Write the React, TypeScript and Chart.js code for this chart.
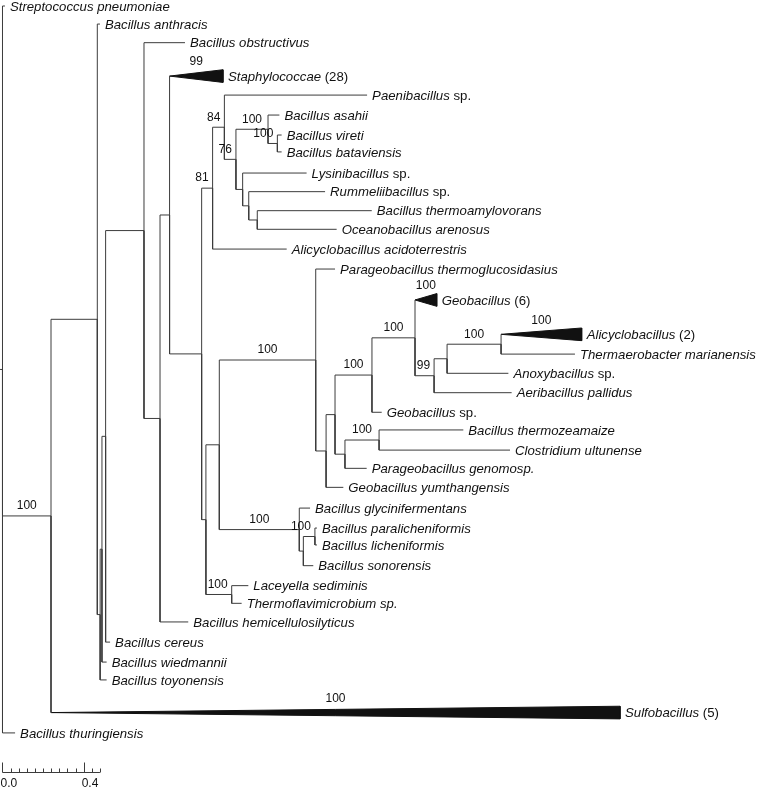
import React, { useEffect, useRef } from "react";
import { Chart, registerables } from "chart.js";

Chart.register(...registerables);

// ---- Leaves (taxa), in drawing order ----
const taxa = [
  "Streptococcus pneumoniae",
  "Bacillus anthracis",
  "Bacillus obstructivus",
  "Staphylococcae",
  "Paenibacillus",
  "Bacillus asahii",
  "Bacillus vireti",
  "Bacillus bataviensis",
  "Lysinibacillus",
  "Rummeliibacillus",
  "Bacillus thermoamylovorans",
  "Oceanobacillus arenosus",
  "Alicyclobacillus acidoterrestris",
  "Parageobacillus thermoglucosidasius",
  "Geobacillus",
  "Alicyclobacillus",
  "Thermaerobacter marianensis",
  "Anoxybacillus",
  "Aeribacillus pallidus",
  "Geobacillus",
  "Bacillus thermozeamaize",
  "Clostridium ultunense",
  "Parageobacillus genomosp.",
  "Geobacillus yumthangensis",
  "Bacillus glycinifermentans",
  "Bacillus paralicheniformis",
  "Bacillus licheniformis",
  "Bacillus sonorensis",
  "Laceyella sediminis",
  "Thermoflavimicrobium sp.",
  "Bacillus hemicellulosilyticus",
  "Bacillus cereus",
  "Bacillus wiedmannii",
  "Bacillus toyonensis",
  "Sulfobacillus",
  "Bacillus thuringiensis",
];

// roman (non-italic) suffix after the italic name
const taxonSuffix = [
  "", "", "", "", " sp.", "", "", "", " sp.", " sp.", "", "", "", "", "", "", "", " sp.", "", " sp.",
  "", "", "", "", "", "", "", "", "", "", "", "", "", "", "", "",
];

// leaf order position (rows)
const taxonRow = [
  0, 0.94, 1.91, 3.65, 4.64, 5.68, 6.72, 7.6, 8.7, 9.67, 10.66, 11.63, 12.66, 13.7, 15.31, 17.1,
  18.13, 19.13, 20.14, 21.16, 22.08, 23.13, 24.08, 25.07, 26.15, 27.19, 28.07, 29.15, 30.19, 31.11,
  32.08, 33.13, 34.17, 35.1, 36.8, 37.86,
];

// cumulative distance from root at the tip (base of triangle for collapsed clades)
const taxonDepth = [
  0.012, 0.48, 0.899, 1.086, 1.796, 1.364, 1.375, 1.375, 1.498, 1.589, 1.819, 1.646, 1.4, 1.638,
  2.139, 2.853, 2.82, 2.492, 2.508, 1.868, 2.27, 2.5, 1.794, 1.679, 1.515, 1.549, 1.549, 1.531,
  1.211, 1.178, 0.915, 0.53, 0.513, 0.513, 3.042, 0.062,
];

// internal node each leaf hangs from
const taxonParent = [
  0, 2, 6, 8, 11, 13, 14, 14, 15, 16, 17, 17, 10, 20, 24, 27, 27, 26, 25, 23, 29, 29, 28, 21, 30,
  32, 32, 31, 33, 33, 7, 5, 4, 3, 1, 0,
];

// collapsed clades: number of sequences (0 = single leaf)
const cladeSize = [
  0, 0, 0, 28, 0, 0, 0, 0, 0, 0, 0, 0, 0, 0, 6, 2, 0, 0, 0, 0, 0, 0, 0, 0, 0, 0, 0, 0, 0, 0, 0, 0,
  0, 0, 5, 0,
];
const cladeSupport = [
  null, null, null, 99, null, null, null, null, null, null, null, null, null, null, 100, 100, null,
  null, null, null, null, null, null, null, null, null, null, null, null, null, null, null, null,
  null, 100, null,
];

// ---- Internal nodes ----
const nodeDepth = [
  0, 0.239, 0.467, 0.481, 0.49, 0.508, 0.697, 0.776, 0.823, 0.981, 1.035, 1.093, 1.15, 1.308,
  1.354, 1.183, 1.213, 1.255, 1.002, 1.068, 1.543, 1.594, 1.638, 1.82, 2.032, 2.126, 2.19, 2.456,
  1.687, 1.855, 1.462, 1.482, 1.539, 1.129,
];
const nodeParent = [
  -1, 0, 1, 2, 3, 4, 5, 6, 7, 8, 9, 10, 11, 12, 13, 12, 15, 16, 9, 18, 19, 20, 21, 22, 23, 24, 25,
  26, 22, 28, 19, 30, 31, 18,
];
const nodeSupport = [
  null, 100, null, null, null, null, null, null, null, null, 81, 84, 76, 100, 100, null, null, null,
  null, null, 100, null, null, 100, 100, 99, null, 100, null, 100, 100, null, 100, 100,
];
const rootBranch = 0.012;

// ---- Scale bar ----
const scaleTicks = [0, 0.04, 0.08, 0.12, 0.16, 0.2, 0.24, 0.28, 0.32, 0.36, 0.4, 0.44, 0.48];
const scaleLabelValues = [0, 0.4];
const scaleLabels = ["0.0", "0.4"];

// ---- Layout constants ----
const LINE_COLOR = "#3c3c3c";
const TEXT_COLOR = "#111111";
const NAME_FONT_SIZE = 13.2;
const SUPPORT_FONT_SIZE = 12;
const FONT_FAMILY = '"Liberation Sans", Arial, Helvetica, sans-serif';
const TRI_HALF = 0.33;

function computeNodeRows(): number[] {
  const rows: number[] = new Array(nodeDepth.length).fill(NaN);
  const childRows = (n: number): number[] => {
    const r: number[] = [];
    taxonParent.forEach((p, i) => {
      if (p === n) r.push(taxonRow[i]);
    });
    nodeParent.forEach((p, i) => {
      if (p === n) r.push(rowOf(i));
    });
    return r;
  };
  const rowOf = (n: number): number => {
    if (!isNaN(rows[n])) return rows[n];
    const r = childRows(n);
    rows[n] = (Math.min(...r) + Math.max(...r)) / 2;
    return rows[n];
  };
  for (let i = 0; i < nodeDepth.length; i++) rowOf(i);
  return rows;
}

const nodeRow = computeNodeRows();

function buildBranches() {
  const pts: { x: number | null; y: number | null }[] = [];
  const gap = () => pts.push({ x: null, y: null });
  // root stub
  pts.push({ x: -rootBranch, y: nodeRow[0] }, { x: 0, y: nodeRow[0] });
  gap();
  nodeParent.forEach((p, n) => {
    if (p < 0) return;
    pts.push(
      { x: nodeDepth[p], y: nodeRow[p] },
      { x: nodeDepth[p], y: nodeRow[n] },
      { x: nodeDepth[n], y: nodeRow[n] }
    );
    gap();
  });
  taxonParent.forEach((p, t) => {
    const tip = cladeSize[t] > 0 ? nodeDepth[p] : taxonDepth[t];
    pts.push(
      { x: nodeDepth[p], y: nodeRow[p] },
      { x: nodeDepth[p], y: taxonRow[t] },
      { x: tip, y: taxonRow[t] }
    );
    gap();
  });
  return pts;
}

const treeLabels = {
  id: "treeLabels",
  afterDatasetsDraw(chart: any) {
    const ctx = chart.ctx as CanvasRenderingContext2D;
    const xs = chart.scales.x;
    const ys = chart.scales.y;
    ctx.save();
    ctx.textBaseline = "middle";
    ctx.fillStyle = TEXT_COLOR;

    // taxon names
    taxa.forEach((name, i) => {
      const px = xs.getPixelForValue(taxonDepth[i]) + 5;
      const py = ys.getPixelForValue(taxonRow[i]) + 1;
      ctx.textAlign = "left";
      ctx.font = `italic ${NAME_FONT_SIZE}px ${FONT_FAMILY}`;
      ctx.fillText(name, px, py);
      const w = ctx.measureText(name).width;
      let suffix = taxonSuffix[i];
      if (cladeSize[i] > 0) suffix = ` (${cladeSize[i]})`;
      if (suffix) {
        ctx.font = `${NAME_FONT_SIZE}px ${FONT_FAMILY}`;
        ctx.fillText(suffix, px + w, py);
      }
    });

    // support values on branches
    ctx.font = `${SUPPORT_FONT_SIZE}px ${FONT_FAMILY}`;
    ctx.textAlign = "center";
    nodeSupport.forEach((s, n) => {
      if (s == null) return;
      const p = nodeParent[n];
      const x0 = p >= 0 ? xs.getPixelForValue(nodeDepth[p]) : xs.getPixelForValue(-rootBranch);
      const x1 = xs.getPixelForValue(nodeDepth[n]);
      const label = String(s);
      const w = ctx.measureText(label).width;
      const cx = Math.min((x0 + x1) / 2, x1 - 4 - w / 2);
      const cy = ys.getPixelForValue(nodeRow[n]) - 10;
      ctx.fillText(label, cx, cy);
    });

    // support values on collapsed clades
    cladeSupport.forEach((s, t) => {
      if (s == null) return;
      const a = xs.getPixelForValue(nodeDepth[taxonParent[t]]);
      const b = xs.getPixelForValue(taxonDepth[t]);
      const cy = ys.getPixelForValue(taxonRow[t]) - 14;
      ctx.fillText(String(s), (a + b) / 2, cy);
    });

    // scale bar
    const barY = chart.chartArea.bottom - 17.5;
    ctx.strokeStyle = LINE_COLOR;
    ctx.lineWidth = 1;
    ctx.beginPath();
    ctx.moveTo(xs.getPixelForValue(scaleTicks[0]), barY);
    ctx.lineTo(xs.getPixelForValue(scaleTicks[scaleTicks.length - 1]), barY);
    scaleTicks.forEach((v) => {
      const x = Math.round(xs.getPixelForValue(v)) + 0.5;
      const major = scaleLabelValues.some((m) => Math.abs(m - v) < 1e-9);
      ctx.moveTo(x, barY);
      ctx.lineTo(x, barY - (major ? 10 : 4));
    });
    ctx.stroke();
    ctx.textAlign = "left";
    ctx.font = `${SUPPORT_FONT_SIZE}px ${FONT_FAMILY}`;
    scaleLabelValues.forEach((v, i) => {
      ctx.fillText(scaleLabels[i], xs.getPixelForValue(v) - 2, chart.chartArea.bottom - 6);
    });
    ctx.restore();
  },
};

export default function App() {
  const ref = useRef<HTMLCanvasElement>(null);
  useEffect(() => {
    if (!ref.current) return;
    const datasets: any[] = [
      {
        label: "branches",
        data: buildBranches(),
        showLine: true,
        spanGaps: false,
        borderColor: LINE_COLOR,
        borderWidth: 1,
        pointRadius: 0,
        pointHoverRadius: 0,
        fill: false,
      },
    ];
    taxa.forEach((name, t) => {
      if (cladeSize[t] <= 0) return;
      const a = nodeDepth[taxonParent[t]];
      const b = taxonDepth[t];
      const r = taxonRow[t];
      datasets.push({
        label: name,
        data: [
          { x: a, y: r },
          { x: b, y: r - TRI_HALF },
          { x: b, y: r + TRI_HALF },
          { x: a, y: r },
        ],
        showLine: true,
        borderColor: "#111",
        backgroundColor: "#111",
        borderWidth: 1,
        pointRadius: 0,
        pointHoverRadius: 0,
        fill: "shape",
      });
    });
    const chart = new Chart(ref.current, {
      type: "scatter",
      data: { datasets },
      options: {
        responsive: false,
        maintainAspectRatio: false,
        animation: false,
        events: [],
        layout: { padding: 0 },
        plugins: { legend: { display: false }, tooltip: { enabled: false } },
        scales: {
          x: { type: "linear", display: false, min: -0.0123, max: 3.7167 },
          y: { type: "linear", display: false, reverse: true, min: -0.3125, max: 40.833 },
        },
      },
      plugins: [treeLabels],
    } as any);
    return () => chart.destroy();
  }, []);
  return (
    <div style={{ position: "absolute", left: 0, top: 0, width: 757, height: 790, background: "#fff" }}>
      <canvas ref={ref} width={757} height={790} style={{ display: "block" }} />
    </div>
  );
}
